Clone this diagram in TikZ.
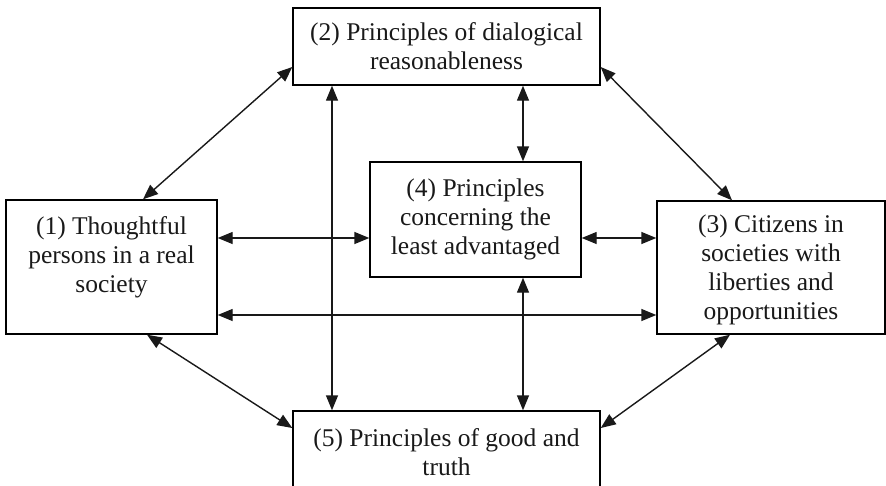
\documentclass[tikz,border=0pt]{standalone}
\usepackage{fontspec}
\setmainfont{Liberation Serif}
\usetikzlibrary{arrows.meta}
\begin{document}
\begin{tikzpicture}[x=1pt,y=-1pt,
  box/.style={draw=black,line width=1.4pt,inner sep=0pt,align=center,
    font=\fontsize{25.5}{29}\selectfont,text=black!90},
  link/.style={line width=1.4pt,draw=black!90,{Triangle[length=15pt,width=12pt]}-{Triangle[length=15pt,width=12pt]}}]
\clip (0,0) rectangle (886,485);
\useasboundingbox (0,0) rectangle (886,485);
\node[box,minimum width=307pt,minimum height=77pt] (b2) at (446.5,46.5) {(2) Principles of dialogical\\reasonableness};
\node[box,minimum width=211pt,minimum height=115pt] (b4) at (475.5,219.5) {(4) Principles\\concerning the\\least advantaged};
\node[box,minimum width=211pt,minimum height=134pt] (b1) at (111.5,267) {(1) Thoughtful\\persons in a real\\society\\[-4pt]};
\node[box,minimum width=228pt,minimum height=133pt,text depth=0pt] (b3) at (771,267.5) {\rule{0pt}{6pt}(3) Citizens in\\societies with\\liberties and\\opportunities};
\node[box,minimum width=307pt,minimum height=82pt] (b5) at (446.5,452) {(5) Principles of good and\\truth};
% helper coordinates
\coordinate (xa) at (143,0);
\coordinate (xb) at (732,0);
\coordinate (xc) at (147,0);
\coordinate (xd) at (730,0);
\coordinate (xl) at (332,0);
\coordinate (xr) at (523,0);
\coordinate (yu) at (0,67);
\coordinate (yd) at (0,428);
\coordinate (ym) at (0,238);
\coordinate (yl) at (0,315);
% diagonals
\draw[link] (b1.north -| xa) -- (b2.west |- yu);
\draw[link] (b2.east |- yu) -- (b3.north -| xb);
\draw[link] (b1.south -| xc) -- (b5.west |- yd);
\draw[link] (b3.south -| xd) -- (b5.east |- yd);
% horizontals
\draw[link] (b1.east |- ym) -- (b4.west |- ym);
\draw[link] (b4.east |- ym) -- (b3.west |- ym);
\draw[link] (b1.east |- yl) -- (b3.west |- yl);
% verticals
\draw[link] (b2.south -| xl) -- (b5.north -| xl);
\draw[link] (b2.south -| xr) -- (b4.north -| xr);
\draw[link] (b4.south -| xr) -- (b5.north -| xr);
\end{tikzpicture}
\end{document}
